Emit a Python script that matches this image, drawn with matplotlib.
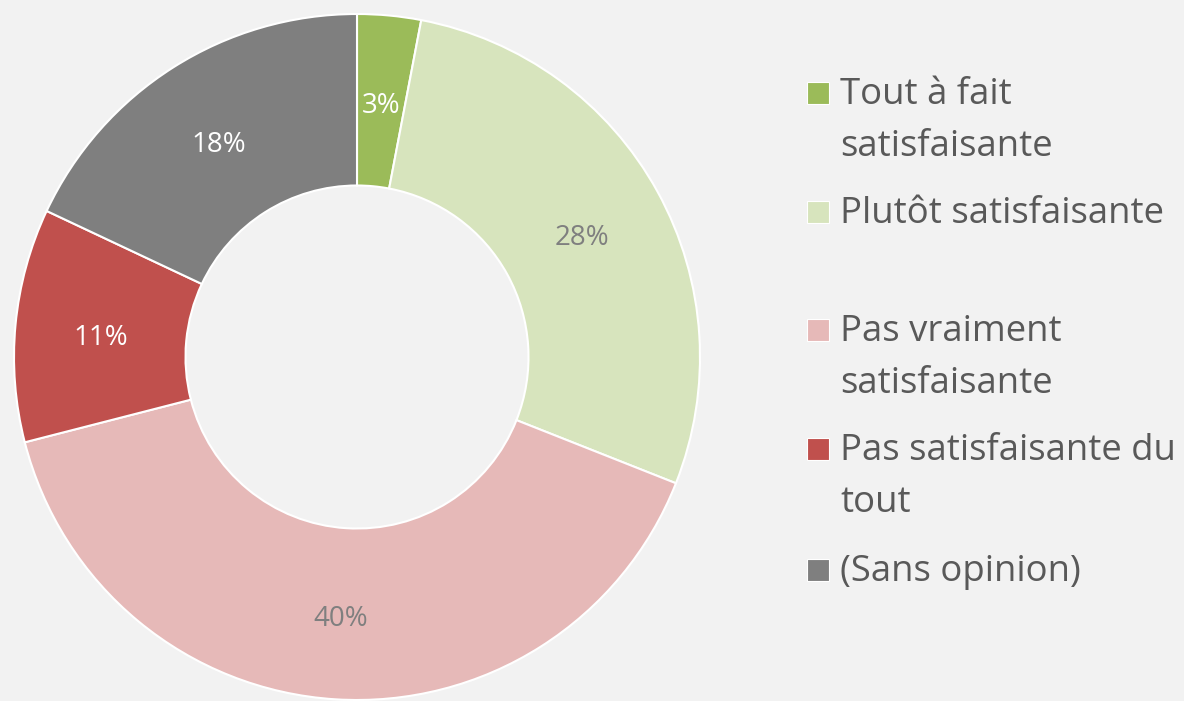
import matplotlib.pyplot as plt
from matplotlib.patches import Rectangle

plt.rcParams['font.family'] = ['Open Sans', 'DejaVu Sans']

# data
categories = ["Tout à fait\nsatisfaisante", "Plutôt satisfaisante",
              "Pas vraiment\nsatisfaisante", "Pas satisfaisante du\ntout",
              "(Sans opinion)"]
values = [3, 28, 40, 11, 18]
colors = ["#9BBB59", "#D7E4BD", "#E6B9B8", "#C0504D", "#7F7F7F"]
label_colors = ["white", "#7F7F7F", "#7F7F7F", "white", "white"]

W, H = 1184, 701
fig = plt.figure(figsize=(W / 100, H / 100), dpi=100, facecolor="#F2F2F2")

# donut centred at (357, 357) px, outer radius 343 px
cx, cy, R = 357, 357, 343
ax = fig.add_axes([(cx - R) / W, (H - cy - R) / H, 2 * R / W, 2 * R / H])
ax.set_facecolor("#F2F2F2")

wedges, texts, autotexts = ax.pie(
    values, colors=colors, startangle=90, counterclock=False,
    autopct="%d%%", pctdistance=0.75,
    wedgeprops=dict(width=0.5, edgecolor="white", linewidth=1.5),
    textprops=dict(fontsize=20),
)
for t, c in zip(autotexts, label_colors):
    t.set_color(c)
    x, y = t.get_position()
    t.set_position((x, y - 0.015))
ax.set_xlim(-1, 1)
ax.set_ylim(-1, 1)
ax.set_aspect("equal")

# legend drawn by hand (irregular spacing like the original)
entry_y = [93, 212, 330, 449, 570]
line_step = 52
for lab, col, y in zip(categories, colors, entry_y):
    fig.add_artist(Rectangle(((807) / W, (H - y - 11) / H), 22 / W, 22 / H,
                             transform=fig.transFigure, facecolor=col,
                             edgecolor="white", linewidth=0.8))
    for i, line in enumerate(lab.split("\n")):
        fig.text(840 / W, (H - y - 2 - i * line_step) / H, line, fontsize=26.3,
                 color="#595959", va="center", ha="left")

fig.savefig("out.png", dpi=100, facecolor=fig.get_facecolor())
plt.close()
